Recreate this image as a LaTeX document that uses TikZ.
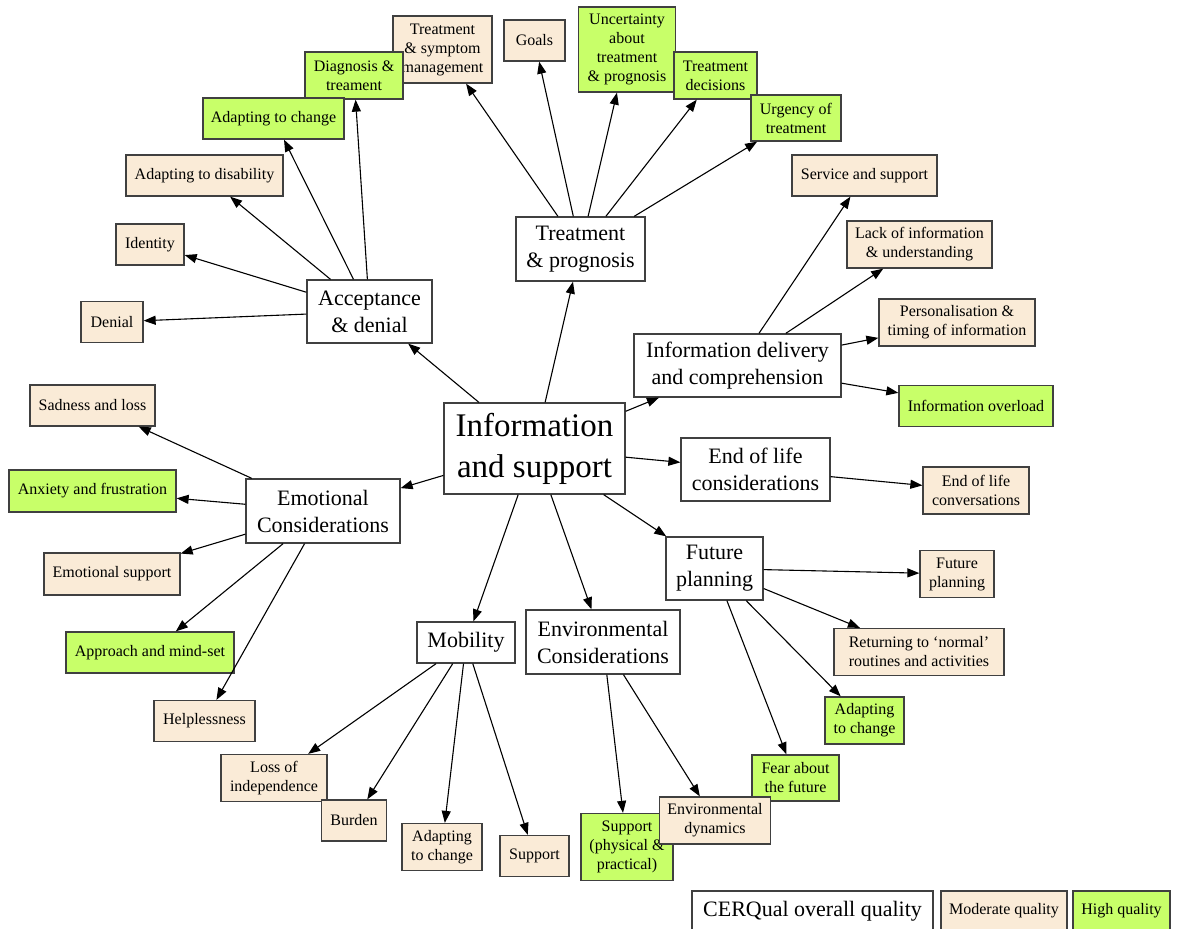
\documentclass[tikz,border=0pt]{standalone}
\usepackage{fontspec}
\setmainfont{Liberation Serif}
\usetikzlibrary{arrows.meta}
\definecolor{modc}{RGB}{250,235,215}
\definecolor{highc}{RGB}{200,255,105}
\definecolor{bord}{RGB}{64,64,64}
\tikzset{
  bx/.style={draw=bord, line width=1.3pt, inner sep=0pt, align=center},
  hub/.style={bx, fill=white, font=\fontsize{22}{27}\selectfont},
  bighub/.style={bx, fill=white, font=\fontsize{33}{41}\selectfont},
  mod/.style={bx, fill=modc, font=\fontsize{16}{19}\selectfont},
  high/.style={bx, fill=highc, font=\fontsize{16}{19}\selectfont},
  conn/.style={draw=black, line width=1.1pt, -{Triangle[length=12pt,width=9pt]}},
}
\begin{document}
\begin{tikzpicture}[x=1pt,y=-1pt]
\useasboundingbox[fill=white] (0,0) rectangle (1179,929);

% hubs
\node[bighub, minimum width=181, minimum height=91] (c) at (534.5,448.5) {Information\\and support};
\node[hub, minimum width=129, minimum height=64] (treat) at (580.5,249) {Treatment\\\& prognosis};
\node[hub, minimum width=125, minimum height=63] (accept) at (369.5,311.5) {Acceptance\\\& denial};
\node[hub, minimum width=207, minimum height=63] (info) at (737.5,365.5) {Information delivery\\and comprehension};
\node[hub, minimum width=149, minimum height=63] (eol) at (755.5,469.5) {End of life\\considerations};
\node[hub, minimum width=154, minimum height=64] (emo) at (323,511) {Emotional\\Considerations};
\node[hub, minimum width=97, minimum height=63] (fut) at (714.5,568.5) {Future\\planning};
\node[hub, minimum width=98, minimum height=41] (mob) at (466,642.5) {Mobility};
\node[hub, minimum width=154, minimum height=64] (env) at (603,642) {Environmental\\Considerations};

% treatment leaves
\node[mod, minimum width=99, minimum height=67] (tsm) at (442.5,49.5) {Treatment\\\& symptom\\management};
\node[mod, minimum width=61, minimum height=41] (goals) at (534.5,40.5) {Goals};
\node[high, minimum width=97, minimum height=85] (unc) at (627,49.5) {Uncertainty\\about\\treatment\\\& prognosis};
\node[high, minimum width=83, minimum height=47] (tdec) at (715.5,75.5) {Treatment\\decisions};
\node[high, minimum width=90, minimum height=46] (urg) at (796,118) {Urgency of\\treatment};

% acceptance leaves
\node[high, minimum width=98, minimum height=47] (diag) at (354,75.5) {Diagnosis \&\\treament};
\node[high, minimum width=141, minimum height=41] (ad1) at (273.5,118.5) {Adapting to change};
\node[mod, minimum width=157, minimum height=41] (adis) at (204.5,175.5) {Adapting to disability};
\node[mod, minimum width=68, minimum height=41] (ident) at (150,244.5) {Identity};
\node[mod, minimum width=62, minimum height=41] (denial) at (112,322) {Denial};

% info leaves
\node[mod, minimum width=145, minimum height=41] (serv) at (864.5,175.5) {Service and support};
\node[mod, minimum width=145, minimum height=47] (lack) at (919.5,244.5) {Lack of information\\\& understanding};
\node[mod, minimum width=156, minimum height=47] (pers) at (957,322.5) {Personalisation \&\\timing of information};
\node[high, minimum width=154, minimum height=41] (over) at (976,406) {Information overload};

% end of life leaf
\node[mod, minimum width=106, minimum height=47] (eolc) at (976,490.5) {End of life\\conversations};

% emotional leaves
\node[mod, minimum width=125, minimum height=41] (sad) at (92.5,405.5) {Sadness and loss};
\node[high, minimum width=167, minimum height=42] (anx) at (92.5,491) {Anxiety and frustration};
\node[mod, minimum width=136, minimum height=42] (esup) at (112,574) {Emotional support};
\node[high, minimum width=168, minimum height=41] (appr) at (150,652.5) {Approach and mind-set};
\node[mod, minimum width=101, minimum height=41] (help) at (204.5,721) {Helplessness};

% future leaves
\node[mod, minimum width=74, minimum height=47] (fpl) at (957,574) {Future\\planning};
\node[mod, minimum width=170, minimum height=47] (ret) at (919,652) {Returning to ‘normal’\\routines and activities};
\node[high, minimum width=79, minimum height=47] (ad3) at (864.5,720.5) {Adapting\\to change};
\node[high, minimum width=87, minimum height=46] (fear) at (795.5,778) {Fear about\\the future};

% mobility leaves
\node[mod, minimum width=106, minimum height=47] (loss) at (274,778) {Loss of\\independence};
\node[mod, minimum width=65, minimum height=41] (burden) at (354,820.5) {Burden};
\node[mod, minimum width=80, minimum height=47] (ad2) at (442,847) {Adapting\\to change};
\node[mod, minimum width=69, minimum height=41] (supp) at (534.5,856) {Support};

% environmental leaves
\node[high, minimum width=92, minimum height=67] (sphys) at (627,847) {Support\\(physical \&\\practical)};
\node[mod, minimum width=111, minimum height=47] (edyn) at (715,820.5) {Environmental\\dynamics};

% legend
\node[bx, fill=white, font=\fontsize{22}{27}\selectfont, minimum width=241, minimum height=40] (lg) at (812.5,911) {CERQual overall quality};
\node[mod, minimum width=126, minimum height=40] (lgm) at (1004,911) {Moderate quality};
\node[high, minimum width=97, minimum height=40] (lgh) at (1121.5,911) {High quality};

% connectors
\foreach \t in {treat,accept,info,eol,emo,fut,mob,env} \draw[conn] (c) -- (\t);
\foreach \t in {tsm,goals,unc,tdec,urg} \draw[conn] (treat) -- (\t);
\foreach \t in {diag,ad1,adis,ident,denial} \draw[conn] (accept) -- (\t);
\foreach \t in {serv,lack,pers,over} \draw[conn] (info) -- (\t);
\draw[conn] (eol) -- (eolc);
\foreach \t in {sad,anx,esup,appr,help} \draw[conn] (emo) -- (\t);
\foreach \t in {fpl,ret,ad3,fear} \draw[conn] (fut) -- (\t);
\foreach \t in {loss,burden,ad2,supp} \draw[conn] (mob) -- (\t);
\foreach \t in {sphys,edyn} \draw[conn] (env) -- (\t);
\end{tikzpicture}
\end{document}
